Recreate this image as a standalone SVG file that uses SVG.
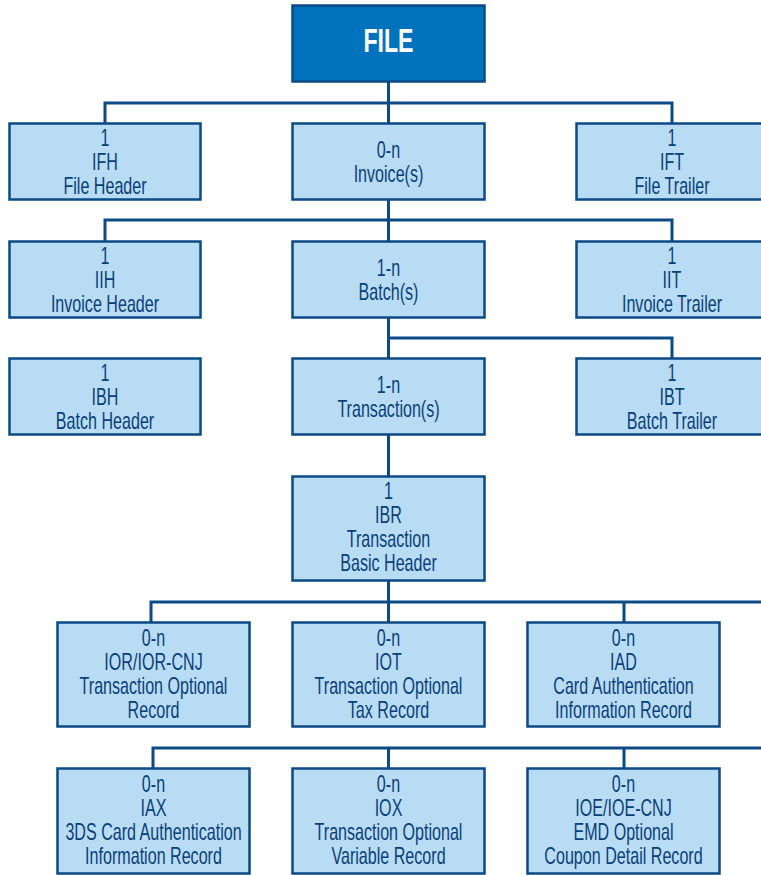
<svg xmlns="http://www.w3.org/2000/svg" width="761" height="875" viewBox="0 0 761 875">
<style>
.b{fill:#b8dcf4;stroke:#0b4a85;stroke-width:2.5}
.root{fill:#0073bc;stroke:#0b4a85;stroke-width:2.5}
.t{font-family:"Liberation Sans",Arial,sans-serif;font-size:23px;fill:#0b3f78;text-anchor:middle}
.rt{font-family:"Liberation Sans",Arial,sans-serif;font-size:33px;font-weight:bold;fill:#ffffff;text-anchor:middle}
.c{fill:none;stroke:#0b4a85;stroke-width:3}
</style>
<rect width="761" height="875" fill="#ffffff"/>
<g id="connectors">
<path class="c" d="M388.5 82 V123 M105 123 V103 H672 V123"/>
<path class="c" d="M388.5 200 V241 M105 241 V220 H672 V241"/>
<path class="c" d="M388.5 318 V358 M388.5 338 H672 V358"/>
<path class="c" d="M388.5 435 V476"/>
<path class="c" d="M388.5 581 V622 M151 622 V602 H761 M624 602 V622"/>
<path class="c" d="M153 768 V748 H761 M388.5 748 V768 M624 748 V768"/>
</g>
<g id="file">
<rect class="root" x="292.5" y="5.5" width="192" height="76"/>
<text class="rt" transform="matrix(0.7,0,0,1,388.5,52)">FILE</text>
</g>
<g id="ifh">
<rect class="b" x="9.5" y="123.5" width="191" height="76"/>
<g transform="matrix(0.7,0,0,1,105,0)"><text class="t" y="146">1</text><text class="t" y="170">IFH</text><text class="t" y="194">File Header</text></g>
</g>
<g id="invoices">
<rect class="b" x="292.5" y="123.5" width="192" height="76"/>
<g transform="matrix(0.7,0,0,1,388.5,0)"><text class="t" y="158">0-n</text><text class="t" y="182">Invoice(s)</text></g>
</g>
<g id="ift">
<rect class="b" x="576.5" y="123.5" width="192" height="76"/>
<g transform="matrix(0.7,0,0,1,672,0)"><text class="t" y="146">1</text><text class="t" y="170">IFT</text><text class="t" y="194">File Trailer</text></g>
</g>
<g id="iih">
<rect class="b" x="9.5" y="241.5" width="191" height="76"/>
<g transform="matrix(0.7,0,0,1,105,0)"><text class="t" y="264">1</text><text class="t" y="288">IIH</text><text class="t" y="312">Invoice Header</text></g>
</g>
<g id="batches">
<rect class="b" x="292.5" y="241.5" width="192" height="76"/>
<g transform="matrix(0.7,0,0,1,388.5,0)"><text class="t" y="276">1-n</text><text class="t" y="300">Batch(s)</text></g>
</g>
<g id="iit">
<rect class="b" x="576.5" y="241.5" width="192" height="76"/>
<g transform="matrix(0.7,0,0,1,672,0)"><text class="t" y="264">1</text><text class="t" y="288">IIT</text><text class="t" y="312">Invoice Trailer</text></g>
</g>
<g id="ibh">
<rect class="b" x="9.5" y="358.5" width="191" height="76"/>
<g transform="matrix(0.7,0,0,1,105,0)"><text class="t" y="381">1</text><text class="t" y="405">IBH</text><text class="t" y="429">Batch Header</text></g>
</g>
<g id="transactions">
<rect class="b" x="292.5" y="358.5" width="192" height="76"/>
<g transform="matrix(0.7,0,0,1,388.5,0)"><text class="t" y="393">1-n</text><text class="t" y="417">Transaction(s)</text></g>
</g>
<g id="ibt">
<rect class="b" x="576.5" y="358.5" width="192" height="76"/>
<g transform="matrix(0.7,0,0,1,672,0)"><text class="t" y="381">1</text><text class="t" y="405">IBT</text><text class="t" y="429">Batch Trailer</text></g>
</g>
<g id="ibr">
<rect class="b" x="292.5" y="476.5" width="192" height="104"/>
<g transform="matrix(0.7,0,0,1,388.5,0)"><text class="t" y="499">1</text><text class="t" y="523">IBR</text><text class="t" y="547">Transaction</text><text class="t" y="571">Basic Header</text></g>
</g>
<g id="ior">
<rect class="b" x="57.5" y="622.5" width="192" height="104"/>
<g transform="matrix(0.7,0,0,1,153.5,0)"><text class="t" y="646">0-n</text><text class="t" y="670">IOR/IOR-CNJ</text><text class="t" y="694">Transaction Optional</text><text class="t" y="718">Record</text></g>
</g>
<g id="iot">
<rect class="b" x="292.5" y="622.5" width="192" height="104"/>
<g transform="matrix(0.7,0,0,1,388.5,0)"><text class="t" y="646">0-n</text><text class="t" y="670">IOT</text><text class="t" y="694">Transaction Optional</text><text class="t" y="718">Tax Record</text></g>
</g>
<g id="iad">
<rect class="b" x="527.5" y="622.5" width="192" height="104"/>
<g transform="matrix(0.7,0,0,1,623.5,0)"><text class="t" y="646">0-n</text><text class="t" y="670">IAD</text><text class="t" y="694">Card Authentication</text><text class="t" y="718">Information Record</text></g>
</g>
<g id="iax">
<rect class="b" x="57.5" y="768.5" width="192" height="105"/>
<g transform="matrix(0.7,0,0,1,153.5,0)"><text class="t" y="792">0-n</text><text class="t" y="816">IAX</text><text class="t" y="840">3DS Card Authentication</text><text class="t" y="864">Information Record</text></g>
</g>
<g id="iox">
<rect class="b" x="292.5" y="768.5" width="192" height="105"/>
<g transform="matrix(0.7,0,0,1,388.5,0)"><text class="t" y="792">0-n</text><text class="t" y="816">IOX</text><text class="t" y="840">Transaction Optional</text><text class="t" y="864">Variable Record</text></g>
</g>
<g id="ioe">
<rect class="b" x="527.5" y="768.5" width="192" height="105"/>
<g transform="matrix(0.7,0,0,1,623.5,0)"><text class="t" y="792">0-n</text><text class="t" y="816">IOE/IOE-CNJ</text><text class="t" y="840">EMD Optional</text><text class="t" y="864">Coupon Detail Record</text></g>
</g>
</svg>
